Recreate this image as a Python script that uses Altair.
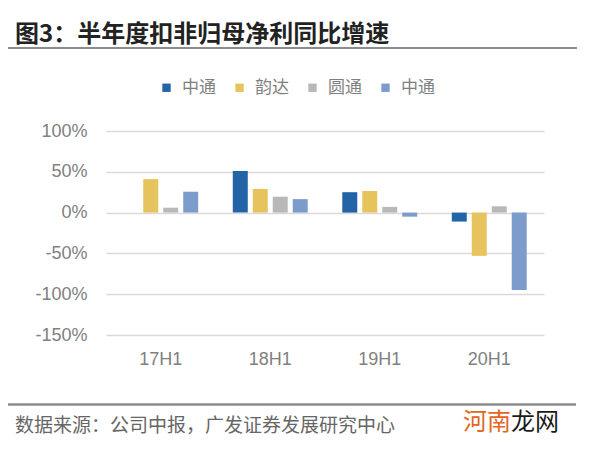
import altair as alt
import pandas as pd

periods = ["17H1", "18H1", "19H1", "20H1"]
series = ["中通", "韵达", "圆通", "申通"]
legend_labels = ["中通", "韵达", "圆通", "中通"]
colors = ["#2264A5", "#E6C35C", "#B8B8B8", "#7C9CCB"]

zto = [None, 51, 25, -11]
yunda = [41, 29, 26.5, -53]
yto = [6, 19.5, 7, 7.7]
sto = [25.6, 16.5, -5, -95]

y_ticks = [-150, -100, -50, 0, 50, 100]

title_text = "图3：半年度扣非归母净利同比增速"
source_text = "数据来源：公司中报，广发证券发展研究中心"
wm1, wm2 = "河南", "龙网"

rows = []
for s, vals in zip(series, [zto, yunda, yto, sto]):
    for p, v in zip(periods, vals):
        if v is not None:
            rows.append({"period": p, "series": s, "value": v})
df = pd.DataFrame(rows)

label_map = "{" + ",".join(f"'{s}':'{l}'" for s, l in zip(series, legend_labels)) + "}"

bars = alt.Chart(df).mark_bar().encode(
    x=alt.X("period:N", sort=periods, title=None,
            scale=alt.Scale(paddingInner=0.27, paddingOuter=0.135),
            axis=alt.Axis(labelAngle=0, ticks=False, domain=False, labelFontSize=18,
                          labelColor="#808080", labelFont="Liberation Sans", labelPadding=15)),
    xOffset=alt.XOffset("series:N", sort=series,
                        scale=alt.Scale(paddingInner=0.25, paddingOuter=0.125)),
    y=alt.Y("value:Q", title=None,
            scale=alt.Scale(domain=[-150, 100], nice=False),
            axis=alt.Axis(values=y_ticks, labelExpr="datum.value + '%'", ticks=False, domain=False,
                          labelFontSize=18, labelColor="#808080", labelFont="Liberation Sans",
                          labelPadding=19, gridColor="#D9D9D9", gridWidth=1.5)),
    color=alt.Color("series:N", sort=series,
                    scale=alt.Scale(domain=series, range=colors),
                    legend=alt.Legend(title=None, orient="none", direction="horizontal",
                                      legendX=52, legendY=-52, symbolType="square",
                                      symbolSize=70, symbolStrokeWidth=0, labelOffset=7,
                                      columnPadding=15, labelFontSize=17, labelColor="#7F7F7F",
                                      labelFont="Noto Sans CJK SC",
                                      labelExpr=f"{label_map}[datum.label]")),
)

one = pd.DataFrame({"k": [0]})

top_rule = alt.Chart(one).mark_rule(color="#8C8C8C", strokeWidth=2).encode(
    x=alt.value(-103), x2=alt.value(471), y=alt.value(-83))
bottom_rule = alt.Chart(one).mark_rule(color="#8C8C8C", strokeWidth=2.5).encode(
    x=alt.value(-102), x2=alt.value(470), y=alt.value(273.5))

title = alt.Chart(one).mark_text(align="left", baseline="middle", font="Noto Sans CJK SC",
                                 fontWeight="bold", fontSize=24, color="#222222").encode(
    x=alt.value(-91), y=alt.value(-96.5), text=alt.value(title_text))
source = alt.Chart(one).mark_text(align="left", baseline="middle", font="Noto Sans CJK SC",
                                  fontSize=19, color="#666666").encode(
    x=alt.value(-91), y=alt.value(295), text=alt.value(source_text))
w1 = alt.Chart(one).mark_text(align="left", baseline="middle", font="Noto Sans CJK SC",
                              fontSize=24, color="#E2661F").encode(
    x=alt.value(357), y=alt.value(292), text=alt.value(wm1))
w2 = alt.Chart(one).mark_text(align="left", baseline="middle", font="Noto Sans CJK SC",
                              fontSize=24, color="#1A1A1A").encode(
    x=alt.value(405), y=alt.value(292), text=alt.value(wm2))

chart = alt.layer(bars, top_rule, bottom_rule, title, source, w1, w2).properties(
    width=438, height=204,
    autosize=alt.AutoSizeParams(type="none"),
    padding={"left": 98, "top": 123, "right": 48, "bottom": 111},
    background="white",
).configure_view(stroke=None)

chart.save("out.html", embed_options={"renderer": "svg", "actions": False})
